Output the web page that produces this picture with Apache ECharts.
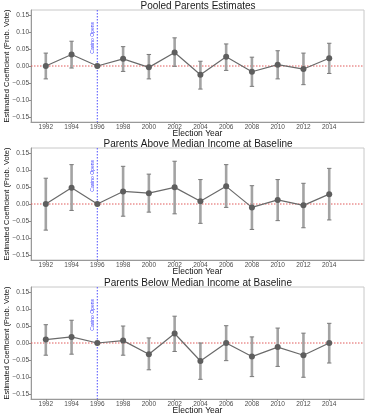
<!DOCTYPE html>
<html><head><meta charset="utf-8">
<script src="https://cdn.jsdelivr.net/npm/echarts@6/dist/echarts.min.js"></script>
<style>html,body{margin:0;padding:0;background:#fff}#c{width:367px;height:415px}</style>
</head><body><div id="c"></div>
<script>
const years = [1992,1994,1996,1998,2000,2002,2004,2006,2008,2010,2012,2014];
const yTicks = [-0.15,-0.10,-0.05,0.00,0.05,0.10,0.15];
const titles = ["Pooled Parents Estimates","Parents Above Median Income at Baseline","Parents Below Median Income at Baseline"];

const pooledEst = [0.000,0.034,0.000,0.021,-0.004,0.040,-0.026,0.027,-0.017,0.004,-0.009,0.023];
const pooledHi  = [0.038,0.073,null,0.057,0.034,0.083,0.014,0.065,0.026,0.045,0.038,0.067];
const pooledLo  = [-0.038,-0.006,null,-0.016,-0.038,-0.001,-0.068,-0.013,-0.060,-0.038,-0.055,-0.022];

const aboveEst = [0.000,0.048,0.000,0.037,0.032,0.049,0.008,0.052,-0.010,0.012,-0.004,0.029];
const aboveHi  = [0.076,0.116,null,0.111,0.088,0.126,0.072,0.116,0.054,0.072,0.061,0.105];
const aboveLo  = [-0.077,-0.019,null,-0.036,-0.024,-0.029,-0.057,-0.010,-0.075,-0.049,-0.070,-0.047];

const belowEst = [0.010,0.018,0.000,0.007,-0.033,0.028,-0.053,0.000,-0.040,-0.012,-0.036,0.000];
const belowHi  = [0.054,0.067,null,0.050,0.015,0.079,0.000,0.051,0.018,0.044,0.029,0.058];
const belowLo  = [-0.036,-0.033,null,-0.036,-0.079,-0.025,-0.107,-0.052,-0.099,-0.069,-0.101,-0.059];

const casinoYear = 1996;
const casinoLabel = "Casino Opens";
const casinoLabelY = 0.083;
const zeroLine = 0;
const xLabel = "Election Year";
const yLabel = "Estimated Coefficient (Prob. Vote)";

const panels = [
  {est: pooledEst, hi: pooledHi, lo: pooledLo},
  {est: aboveEst, hi: aboveHi, lo: aboveLo},
  {est: belowEst, hi: belowHi, lo: belowLo}
];

const tops = [10, 148, 287];
const plotH = 112;
const FONT = "Liberation Sans";

const chart = echarts.init(document.getElementById('c'), null, {renderer:'canvas'});
const grid = [], xAxis = [], yAxis = [], series = [], title = [];

function fmtY(v){
  const s = Math.abs(v).toFixed(2);
  return (v < -1e-9 ? "\u2212" : "") + s;
}

panels.forEach((p, i) => {
  grid.push({left: 31, right: 3, top: tops[i], height: plotH, containLabel: false, outerBoundsMode: 'none',
    show: true, borderColor: '#c8c8c8', borderWidth: 1, backgroundColor: '#fff'});
  title.push({text: titles[i], left: 198, top: tops[i] - 9, textAlign: 'center', padding: 0,
    textStyle: {fontFamily: FONT, fontSize: 10, fontWeight: 'normal', color: '#1a1a1a'}});
  xAxis.push({type: 'value', gridIndex: i, min: 1990.85, max: 2016.7,
    name: xLabel, nameLocation: 'middle', nameGap: 7, nameMoveOverlap: false,
    nameTextStyle: {fontFamily: FONT, fontSize: 8.5, color: '#111', verticalAlign: 'top'},
    splitLine: {show: false},
    axisLine: {show: true, onZero: false, lineStyle: {color: '#999', width: 1}},
    axisTick: {show: true, length: 2, lineStyle: {color: '#888'}, customValues: years},
    axisLabel: {fontFamily: FONT, fontSize: 6.5, color: '#4d4d4d', margin: 2, customValues: years, formatter: v => String(v)}
  });
  yAxis.push({type: 'value', gridIndex: i, min: -0.165, max: 0.165,
    name: yLabel, nameLocation: 'middle', nameGap: 20, nameMoveOverlap: false,
    nameTextStyle: {fontFamily: FONT, fontSize: 7.5, color: '#111'},
    splitLine: {show: false},
    axisLine: {show: true, onZero: false, lineStyle: {color: '#999', width: 1}},
    axisTick: {show: true, length: 2, lineStyle: {color: '#888'}, customValues: yTicks},
    axisLabel: {fontFamily: FONT, fontSize: 6.5, color: '#4d4d4d', margin: 2, customValues: yTicks, formatter: fmtY}
  });
  // reference lines (zero and casino opening)
  series.push({type: 'custom', xAxisIndex: i, yAxisIndex: i, data: [[casinoYear, zeroLine]], silent: true, z: 2,
    renderItem: (params, api) => {
      const cs = params.coordSys;
      const c = api.coord([api.value(0), api.value(1)]);
      return {type: 'group', children: [
        {type: 'line', shape: {x1: cs.x, y1: c[1], x2: cs.x + cs.width, y2: c[1]},
          style: {stroke: '#e05a5a', lineWidth: 1, lineDash: [1.5, 1.5]}},
        {type: 'line', shape: {x1: c[0], y1: cs.y, x2: c[0], y2: cs.y + cs.height},
          style: {stroke: '#6b6bff', lineWidth: 1.2, lineDash: [1.5, 1.5]}}
      ]};
    }
  });
  // error bars
  const ebData = years.map((y, k) => [y, p.lo[k], p.hi[k]]).filter(d => d[1] !== null);
  series.push({type: 'custom', xAxisIndex: i, yAxisIndex: i, data: ebData, silent: true, z: 3,
    renderItem: (params, api) => {
      const x = api.value(0);
      const a = api.coord([x, api.value(1)]);
      const b = api.coord([x, api.value(2)]);
      const cw = 2.2;
      return {type: 'group', children: [
        {type: 'line', shape: {x1: a[0], y1: a[1], x2: b[0], y2: b[1]}, style: {stroke: '#a3a3a3', lineWidth: 2.6}},
        {type: 'line', shape: {x1: a[0]-cw, y1: a[1], x2: a[0]+cw, y2: a[1]}, style: {stroke: '#7a7a7a', lineWidth: 1}},
        {type: 'line', shape: {x1: b[0]-cw, y1: b[1], x2: b[0]+cw, y2: b[1]}, style: {stroke: '#7a7a7a', lineWidth: 1}}
      ]};
    }
  });
  // estimates
  series.push({type: 'line', xAxisIndex: i, yAxisIndex: i, z: 4,
    data: years.map((y, k) => [y, p.est[k]]),
    symbol: 'circle', symbolSize: 6, showSymbol: true,
    lineStyle: {color: '#6a6a6a', width: 1.2},
    itemStyle: {color: '#5e5e5e'}
  });
  // annotation text
  series.push({type: 'custom', xAxisIndex: i, yAxisIndex: i, data: [[casinoYear, casinoLabelY]], silent: true, z: 5,
    renderItem: (params, api) => {
      const c = api.coord([api.value(0), api.value(1)]);
      return {type: 'text', x: c[0] - 5, y: c[1], rotation: Math.PI/2,
        style: {text: casinoLabel, fill: '#4444ff', font: '5px "Liberation Sans"', align: 'center', verticalAlign: 'middle'}};
    }
  });
});

chart.setOption({animation: false, backgroundColor: '#fff', title, grid, xAxis, yAxis, series});
</script></body></html>
